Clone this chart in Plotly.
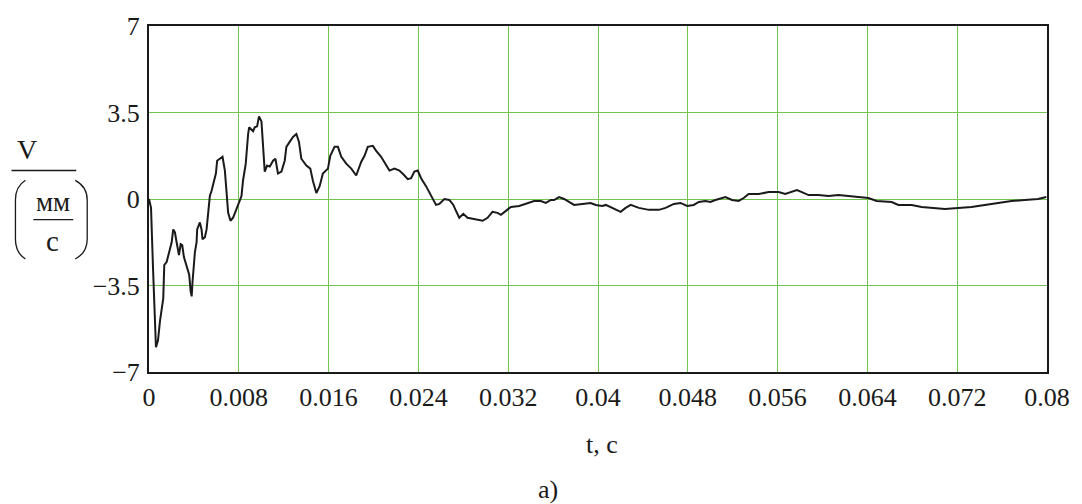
import plotly.graph_objects as go

# ---- data ----
t = [0, 0.00018, 0.00036, 0.00049, 0.00062, 0.0008, 0.00098, 0.00127, 0.00136, 0.00157,
     0.00172, 0.00202, 0.00216, 0.00231, 0.00246, 0.00267, 0.00282, 0.00296, 0.00311, 0.00335,
     0.00358, 0.00371, 0.0038, 0.00388, 0.00409, 0.00424, 0.00429, 0.00453, 0.00468, 0.00477,
     0.00498, 0.00513, 0.00527, 0.00542, 0.00557, 0.00572, 0.00596, 0.00607, 0.00631, 0.00655,
     0.00676, 0.00691, 0.00705, 0.00726, 0.00749, 0.00773, 0.00803, 0.00824, 0.00838, 0.00862,
     0.00883, 0.00892, 0.00927, 0.00942, 0.00963, 0.0098, 0.01002, 0.01016, 0.01031, 0.01052,
     0.01076, 0.01105, 0.01126, 0.01149, 0.0118, 0.01209, 0.01224, 0.01253, 0.01283, 0.01313,
     0.01336, 0.01357, 0.01402, 0.01437, 0.01461, 0.01491, 0.0152, 0.01549, 0.01594, 0.01615,
     0.01653, 0.01683, 0.01713, 0.01757, 0.01802, 0.01846, 0.01891, 0.0192, 0.01949, 0.01994,
     0.02024, 0.02068, 0.02113, 0.02142, 0.02187, 0.02231, 0.02276, 0.02305, 0.02335, 0.02364,
     0.02394, 0.02424, 0.02468, 0.02513, 0.02557, 0.02587, 0.02616, 0.02631, 0.02676, 0.02711,
     0.02735, 0.02764, 0.028, 0.02838, 0.02883, 0.02927, 0.02972, 0.03016, 0.0306, 0.03105,
     0.03135, 0.0318, 0.03224, 0.03298, 0.03372, 0.03431, 0.03491, 0.03535, 0.0358, 0.03609,
     0.03653, 0.03698, 0.03742, 0.03787, 0.0386, 0.03935, 0.0398, 0.04038, 0.04069, 0.04127,
     0.04202, 0.04246, 0.04291, 0.04364, 0.04453, 0.04542, 0.04602, 0.04676, 0.04735, 0.04794,
     0.04853, 0.04898, 0.04957, 0.05002, 0.05046, 0.05135, 0.05194, 0.05253, 0.05298, 0.05342,
     0.05431, 0.0552, 0.05609, 0.05668, 0.05727, 0.05772, 0.05816, 0.05876, 0.05964, 0.06053,
     0.06142, 0.06231, 0.0632, 0.06409, 0.06483, 0.06616, 0.06676, 0.06794, 0.06883, 0.06972,
     0.07091, 0.07209, 0.07327, 0.07446, 0.07564, 0.07683, 0.07802, 0.0792, 0.07994]
v = [0, -0.36, -2.82, -4.93, -6.0, -5.73, -4.93, -4.02, -2.67, -2.55,
     -2.27, -1.75, -1.23, -1.35, -1.75, -2.27, -1.83, -1.87, -2.35, -2.67,
     -3.06, -3.74, -3.94, -3.34, -2.15, -1.75, -1.23, -0.95, -1.23, -1.63,
     -1.55, -1.23, -0.44, 0.12, 0.32, 0.64, 1.03, 1.55, 1.63, 1.71,
     1.15, 0.12, -0.56, -0.88, -0.76, -0.48, -0.16, 0.12, 0.76, 1.43,
     2.63, 2.90, 2.74, 2.90, 2.94, 3.34, 3.14, 2.23, 1.11, 1.35,
     1.31, 1.55, 1.63, 1.03, 1.11, 1.55, 2.11, 2.31, 2.51, 2.63,
     2.31, 1.63, 1.35, 1.23, 0.72, 0.24, 0.52, 1.03, 1.23, 1.75,
     2.11, 2.11, 1.71, 1.43, 1.23, 0.95, 1.51, 1.75, 2.11, 2.15,
     1.95, 1.71, 1.35, 1.15, 1.23, 1.15, 0.95, 0.80, 0.84, 1.11,
     1.15, 0.84, 0.52, 0.16, -0.24, -0.20, -0.04, 0, -0.04, -0.24,
     -0.48, -0.76, -0.60, -0.76, -0.80, -0.84, -0.88, -0.76, -0.52, -0.56,
     -0.64, -0.48, -0.32, -0.28, -0.16, -0.08, -0.08, -0.16, -0.04, -0.04,
     0.08, 0, -0.12, -0.24, -0.20, -0.16, -0.24, -0.28, -0.24, -0.36,
     -0.52, -0.36, -0.24, -0.36, -0.44, -0.44, -0.36, -0.20, -0.16, -0.28,
     -0.24, -0.12, -0.08, -0.12, -0.04, 0.08, -0.04, -0.08, 0.04, 0.20,
     0.20, 0.28, 0.28, 0.20, 0.28, 0.36, 0.28, 0.16, 0.16, 0.12,
     0.16, 0.12, 0.08, 0.04, -0.08, -0.12, -0.24, -0.24, -0.32, -0.36,
     -0.40, -0.36, -0.32, -0.24, -0.16, -0.08, -0.04, 0, 0.08]

x_tickvals = [0, 0.008, 0.016, 0.024, 0.032, 0.04, 0.048, 0.056, 0.064, 0.072, 0.08]
x_ticktext = ["0", "0.008", "0.016", "0.024", "0.032", "0.04", "0.048", "0.056", "0.064", "0.072", "0.08"]
y_tickvals = [-7, -3.5, 0, 3.5, 7]
y_ticktext = ["\u22127", "\u22123.5", "0", "3.5", "7"]

# ---- layout geometry (pixels) ----
W, H = 1082, 504
L, R, T, B = 149, 1050, 20, 372
FONT = "Liberation Serif, Times New Roman, serif"
GRID = "#74c452"
INK = "#1a1a1a"


def px(x):
    return (x - L) / (R - L)


def py(y):
    return (B - y) / (B - T)


fig = go.Figure()
fig.add_trace(go.Scatter(x=t, y=v, mode="lines",
                         line=dict(color=INK, width=2),
                         showlegend=False, hoverinfo="skip"))

fig.update_layout(
    width=W, height=H,
    margin=dict(l=L, r=W - R, t=T, b=H - B),
    paper_bgcolor="white", plot_bgcolor="white",
    font=dict(family=FONT, size=26, color=INK),
)
fig.update_xaxes(range=[0, 0.08], tickvals=x_tickvals, ticktext=x_ticktext,
                 showgrid=True, gridcolor=GRID, gridwidth=1.2, zeroline=False,
                 showline=True, mirror=True, linecolor=INK, linewidth=2,
                 ticks="outside", ticklen=1, tickcolor="rgba(0,0,0,0)",
                 tickfont=dict(family=FONT, size=26))
fig.update_yaxes(range=[-7, 7], tickvals=y_tickvals, ticktext=y_ticktext,
                 showgrid=True, gridcolor=GRID, gridwidth=1.2, zeroline=False,
                 showline=True, mirror=True, linecolor=INK, linewidth=2,
                 ticks="outside", ticklen=2, tickcolor="rgba(0,0,0,0)",
                 tickfont=dict(family=FONT, size=26))

ann = []
# x-axis title and caption
ann.append(dict(text="t, с", x=px(604), y=py(446), xref="paper", yref="paper",
                showarrow=False, font=dict(family=FONT, size=26), xanchor="center", yanchor="middle"))
ann.append(dict(text="a)", x=px(549), y=py(492), xref="paper", yref="paper",
                showarrow=False, font=dict(family=FONT, size=26), xanchor="center", yanchor="middle"))
# y-axis label: V / (мм / с)
ann.append(dict(text="V", x=px(27), y=py(146), xref="paper", yref="paper",
                showarrow=False, font=dict(family=FONT, size=28), xanchor="center", yanchor="middle"))
ann.append(dict(text="мм", x=px(53), y=py(199), xref="paper", yref="paper",
                showarrow=False, font=dict(family=FONT, size=27), xanchor="center", yanchor="middle"))
ann.append(dict(text="с", x=px(52), y=py(239), xref="paper", yref="paper",
                showarrow=False, font=dict(family=FONT, size=29), xanchor="center", yanchor="middle"))
fig.update_layout(annotations=ann)

shapes = []
shapes.append(dict(type="line", xref="paper", yref="paper",
                   x0=px(11), x1=px(76), y0=py(167), y1=py(167),
                   line=dict(color=INK, width=1.5)))
shapes.append(dict(type="line", xref="paper", yref="paper",
                   x0=px(33), x1=px(73), y0=py(217), y1=py(217),
                   line=dict(color=INK, width=1.3)))


def paren(x_tip, x_mid, y0, y1):
    ym0 = y0 + (y1 - y0) * 0.25
    ym1 = y0 + (y1 - y0) * 0.75
    return ("M {a},{b} Q {c},{d} {c},{e} L {c},{f} Q {c},{g} {a},{h}".format(
        a=px(x_tip), b=py(y0), c=px(x_mid), d=py(y0 + (y1 - y0) * 0.08),
        e=py(ym0), f=py(ym1), g=py(y1 - (y1 - y0) * 0.08), h=py(y1)))


shapes.append(dict(type="path", xref="paper", yref="paper", path=paren(25, 15, 177, 257),
                   line=dict(color=INK, width=1.3)))
shapes.append(dict(type="path", xref="paper", yref="paper", path=paren(75, 87, 177, 257),
                   line=dict(color=INK, width=1.3)))
fig.update_layout(shapes=shapes)

fig.write_html("out.html")
